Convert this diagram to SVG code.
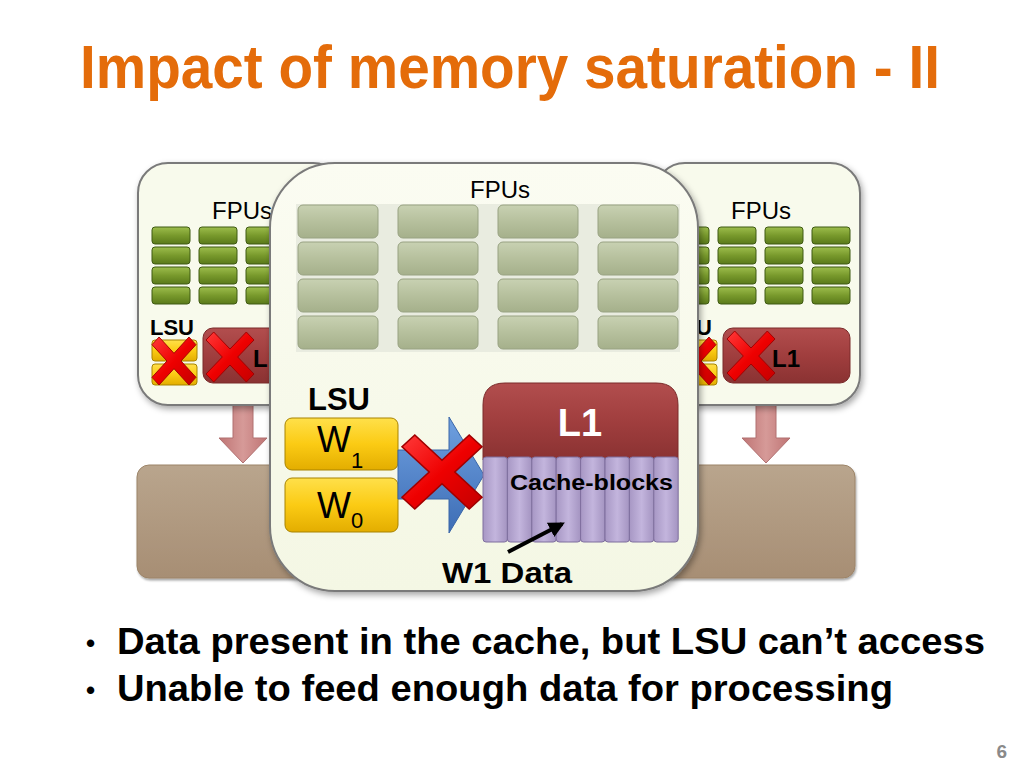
<svg xmlns="http://www.w3.org/2000/svg" xmlns:xlink="http://www.w3.org/1999/xlink" width="1024" height="768" viewBox="0 0 1024 768">
<style>
.lbl{font-family:"Liberation Sans",Arial,sans-serif;fill:#000}
.b{font-weight:bold}
.panel{fill:#f8faec;stroke:#7a7a7a;stroke-width:2}
.grn{fill:url(#gGreen);stroke:#3f5a12;stroke-width:1}
.gry{fill:url(#gGray);stroke:#98a282;stroke-width:1}
.yel{fill:url(#gYel);stroke:#a88300;stroke-width:1}
.red{fill:url(#gRed);stroke:#7a2a2a;stroke-width:1}
.cb{fill:url(#gCb);stroke:#7f6f9e;stroke-width:1}
.x{fill:url(#gX);stroke:#a00000;stroke-width:0.04}
.pink{fill:url(#gPink);stroke:#b07070;stroke-width:1}
</style>
<defs>
<filter id="sh" x="-10%" y="-10%" width="125%" height="125%"><feDropShadow dx="2" dy="3" stdDeviation="3" flood-color="#000" flood-opacity="0.35"/></filter>
<filter id="sh2" x="-10%" y="-10%" width="130%" height="130%"><feDropShadow dx="1" dy="2" stdDeviation="1.2" flood-color="#000" flood-opacity="0.35"/></filter>
<linearGradient id="gGreen" x1="0" y1="0" x2="0" y2="1"><stop offset="0" stop-color="#9dbd4c"/><stop offset="0.5" stop-color="#78992c"/><stop offset="1" stop-color="#5a7a1a"/></linearGradient>
<linearGradient id="gGray" x1="0" y1="0" x2="0" y2="1"><stop offset="0" stop-color="#c8d1b2"/><stop offset="0.5" stop-color="#b6c09d"/><stop offset="1" stop-color="#a5b08b"/></linearGradient>
<linearGradient id="gYel" x1="0" y1="0" x2="0" y2="1"><stop offset="0" stop-color="#ffe04a"/><stop offset="0.5" stop-color="#fbcb14"/><stop offset="1" stop-color="#e3ad00"/></linearGradient>
<linearGradient id="gRed" x1="0" y1="0" x2="0" y2="1"><stop offset="0" stop-color="#b24e4e"/><stop offset="0.5" stop-color="#a03e3e"/><stop offset="1" stop-color="#8a3232"/></linearGradient>
<linearGradient id="gCb" x1="0" y1="0" x2="1" y2="0"><stop offset="0" stop-color="#a797c4"/><stop offset="0.5" stop-color="#c3b5dd"/><stop offset="1" stop-color="#a494c1"/></linearGradient>
<linearGradient id="gX" x1="0" y1="0" x2="1" y2="1"><stop offset="0" stop-color="#ff3a3a"/><stop offset="0.5" stop-color="#ee0000"/><stop offset="1" stop-color="#c40000"/></linearGradient>
<linearGradient id="gPink" x1="0" y1="0" x2="1" y2="0"><stop offset="0" stop-color="#bf7474"/><stop offset="0.5" stop-color="#d69a98"/><stop offset="1" stop-color="#bf7474"/></linearGradient>
<linearGradient id="gBrown" x1="0" y1="0" x2="0" y2="1"><stop offset="0" stop-color="#b9a58d"/><stop offset="1" stop-color="#a78e74"/></linearGradient>
<linearGradient id="gBlue" x1="0" y1="0" x2="0" y2="1"><stop offset="0" stop-color="#6fa0e0"/><stop offset="1" stop-color="#3d6db5"/></linearGradient>
<linearGradient id="gPanel" x1="0" y1="0" x2="0" y2="1"><stop offset="0" stop-color="#fbfcf2"/><stop offset="1" stop-color="#f4f7e4"/></linearGradient>
<path id="xmark" class="x" d="M-1,-0.68 L-0.68,-1 L0,-0.32 L0.68,-1 L1,-0.68 L0.32,0 L1,0.68 L0.68,1 L0,0.32 L-0.68,1 L-1,0.68 L-0.32,0 Z"/>
<g id="gcol">
<rect class="grn" x="0" y="0" width="38" height="17" rx="3"/>
<rect class="grn" x="0" y="20" width="38" height="17" rx="3"/>
<rect class="grn" x="0" y="40" width="38" height="17" rx="3"/>
<rect class="grn" x="0" y="60" width="38" height="17" rx="3"/>
</g>
<g id="gycol">
<rect class="gry" x="0" y="0" width="80" height="33" rx="5"/>
<rect class="gry" x="0" y="37" width="80" height="33" rx="5"/>
<rect class="gry" x="0" y="74" width="80" height="33" rx="5"/>
<rect class="gry" x="0" y="111" width="80" height="33" rx="5"/>
</g>
<marker id="ah" viewBox="0 0 10 10" refX="8" refY="5" markerWidth="4" markerHeight="4" orient="auto"><path d="M0,0 L10,5 L0,10 Z" fill="#000"/></marker>
</defs>
<rect width="1024" height="768" fill="#fff"/>

<text class="b" x="80" y="88" font-family="'Liberation Sans Narrow','Liberation Sans',Arial,sans-serif" font-size="62" fill="#e46c0a" textLength="860" lengthAdjust="spacingAndGlyphs">Impact of memory saturation - II</text>

<g id="memory">
<rect x="137" y="465" width="718" height="113" rx="12" fill="url(#gBrown)" stroke="#9c8468" stroke-width="1" filter="url(#sh2)"/>
</g>

<g id="connectors">
<path class="pink" d="M233,405 L253,405 L253,438 L267,438 L243,463 L219,438 L233,438 Z"/>
<path class="pink" d="M756,405 L776,405 L776,438 L790,438 L766,463 L742,438 L756,438 Z"/>
</g>

<g id="core-left">
<rect class="panel" x="138" y="163" width="205" height="242" rx="30" filter="url(#sh)"/>
<text class="lbl" x="212" y="219" font-size="24">FPUs</text>
<use xlink:href="#gcol" x="152" y="227"/>
<use xlink:href="#gcol" x="199" y="227"/>
<use xlink:href="#gcol" x="246" y="227"/>
<use xlink:href="#gcol" x="293" y="227"/>
<text class="lbl b" x="150" y="335" font-size="22">LSU</text>
<rect class="yel" x="152" y="340" width="45" height="21" rx="3"/>
<rect class="yel" x="152" y="364" width="45" height="21" rx="3"/>
<use xlink:href="#xmark" transform="translate(174,361) scale(22,24)"/>
<rect class="red" x="203" y="328" width="135" height="55" rx="10"/>
<use xlink:href="#xmark" transform="translate(230,357) scale(24,25)"/>
<text class="lbl b" x="253" y="367" font-size="24">L1</text>
</g>

<g id="core-right">
<rect class="panel" x="655" y="163" width="205" height="242" rx="30" filter="url(#sh)"/>
<text class="lbl" x="731" y="219" font-size="24">FPUs</text>
<use xlink:href="#gcol" x="671" y="227"/>
<use xlink:href="#gcol" x="718" y="227"/>
<use xlink:href="#gcol" x="765" y="227"/>
<use xlink:href="#gcol" x="812" y="227"/>
<text class="lbl b" x="668" y="335" font-size="22">LSU</text>
<rect class="yel" x="672" y="340" width="45" height="21" rx="3"/>
<rect class="yel" x="672" y="364" width="45" height="21" rx="3"/>
<use xlink:href="#xmark" transform="translate(694,361) scale(22,24)"/>
<rect class="red" x="723" y="328" width="127" height="55" rx="10"/>
<use xlink:href="#xmark" transform="translate(751,356) scale(24,25)"/>
<text class="lbl b" x="772" y="367" font-size="24">L1</text>
</g>

<g id="core-center">
<rect x="270" y="163" width="428" height="428" rx="65" fill="url(#gPanel)" stroke="#7a7a7a" stroke-width="2" filter="url(#sh)"/>
<text class="lbl" x="500" y="198" font-size="24" text-anchor="middle">FPUs</text>
<rect x="296" y="204" width="384" height="148" fill="#e9ece0"/>
<use xlink:href="#gycol" x="298" y="205"/>
<use xlink:href="#gycol" x="398" y="205"/>
<use xlink:href="#gycol" x="498" y="205"/>
<use xlink:href="#gycol" x="598" y="205"/>
<text class="lbl b" x="308" y="410" font-size="31">LSU</text>
<g id="w1">
<rect class="yel" x="285" y="418" width="113" height="52" rx="7"/>
<text class="lbl" x="317" y="452" font-size="36">W<tspan font-size="22" dy="16">1</tspan></text>
</g>
<g id="w0">
<rect class="yel" x="285" y="478" width="113" height="54" rx="7"/>
<text class="lbl" x="317" y="518" font-size="36">W<tspan font-size="22" dy="10">0</tspan></text>
</g>
<path d="M398,450 L449,450 L449,417 L484,475 L449,533 L449,499 L398,499 Z" fill="url(#gBlue)" stroke="#3a66a8" stroke-width="1"/>
<g id="l1">
<path class="red" d="M483,460 L483,405 Q483,383 505,383 L656,383 Q678,383 678,405 L678,460 Z"/>
<text x="580" y="436" font-family="'Liberation Sans',Arial,sans-serif" font-weight="bold" font-size="38" fill="#fff" text-anchor="middle">L1</text>
<rect class="cb" x="483" y="457" width="24.4" height="85" rx="3"/>
<rect class="cb" x="507.4" y="457" width="24.4" height="85" rx="3"/>
<rect class="cb" x="531.8" y="457" width="24.4" height="85" rx="3"/>
<rect class="cb" x="556.2" y="457" width="24.4" height="85" rx="3"/>
<rect class="cb" x="580.6" y="457" width="24.4" height="85" rx="3"/>
<rect class="cb" x="605" y="457" width="24.4" height="85" rx="3"/>
<rect class="cb" x="629.4" y="457" width="24.4" height="85" rx="3"/>
<rect class="cb" x="653.8" y="457" width="24.4" height="85" rx="3"/>
<text class="lbl b" x="510" y="490" font-size="22" textLength="163" lengthAdjust="spacingAndGlyphs">Cache-blocks</text>
</g>
<use xlink:href="#xmark" transform="translate(442,472) scale(40,37)"/>
<line x1="508" y1="552" x2="562" y2="524" stroke="#000" stroke-width="4" marker-end="url(#ah)"/>
<text class="lbl b" x="442" y="583" font-size="30" textLength="130" lengthAdjust="spacingAndGlyphs">W1 Data</text>
</g>

<g id="bullets" font-family="'Liberation Sans Narrow','Liberation Sans',Arial,sans-serif" font-weight="bold" fill="#000">
<text x="86" y="652" font-size="26">•</text>
<text x="117" y="654" font-size="37" textLength="868" lengthAdjust="spacingAndGlyphs">Data present in the cache, but LSU can’t access</text>
<text x="86" y="699" font-size="26">•</text>
<text x="117" y="701" font-size="37" textLength="776" lengthAdjust="spacingAndGlyphs">Unable to feed enough data for processing</text>
</g>
<text x="1007" y="758" font-family="'Liberation Sans',Arial,sans-serif" font-weight="bold" font-size="19" fill="#8a8a8a" text-anchor="end">6</text>
</svg>
